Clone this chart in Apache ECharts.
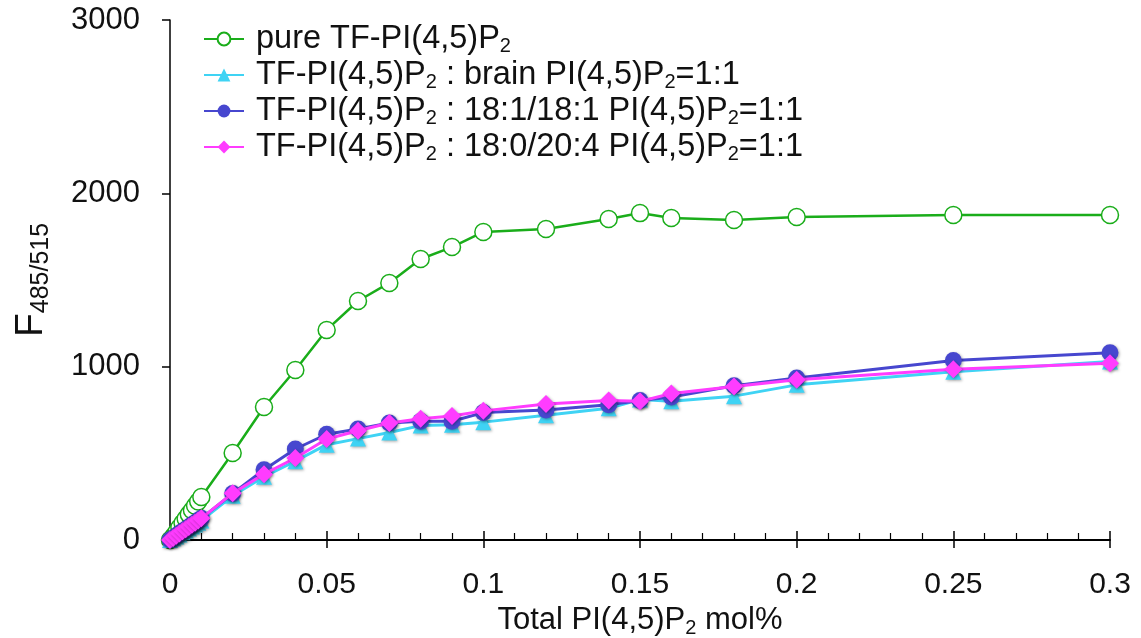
<!DOCTYPE html>
<html><head><meta charset="utf-8">
<script src="https://cdn.jsdelivr.net/npm/echarts@6/dist/echarts.min.js"></script>
<style>html,body{margin:0;padding:0;background:#fff}#c{width:1141px;height:638px}</style>
</head><body><div id="c"></div>
<script>
const xValues = [0,0.001,0.002,0.003,0.004,0.005,0.006,0.007,0.008,0.009,0.01,0.02,0.03,0.04,0.05,0.06,0.07,0.08,0.09,0.1,0.12,0.14,0.15,0.16,0.18,0.2,0.25,0.3];
const pureTF   = [0,20,45,72,98,122,148,172,198,222,248,502,767,981,1212,1379,1483,1621,1690,1777,1794,1852,1886,1858,1846,1863,1875,1875];
const brainMix = [0,10,20,32,44,55,66,78,90,100,112,255,365,455,550,585,620,660,665,680,720,760,810,800,830,895,970,1030];
const mix181   = [0,12,25,38,50,62,75,88,100,112,125,268,405,525,610,640,675,685,685,735,750,780,805,825,890,935,1035,1080];
const mix1820  = [0,12,25,38,50,62,75,88,100,112,125,270,380,473,583,630,675,700,715,745,785,805,800,845,885,925,985,1020];
const seriesNames = ['pure','brain','181','1820'];
const legendLabels = {
  'pure':'pure TF-PI(4,5)P{s|2}',
  'brain':'TF-PI(4,5)P{s|2} : brain PI(4,5)P{s|2}=1:1',
  '181':'TF-PI(4,5)P{s|2} : 18:1/18:1 PI(4,5)P{s|2}=1:1',
  '1820':'TF-PI(4,5)P{s|2} : 18:0/20:4 PI(4,5)P{s|2}=1:1'
};
const yTicks = [0,1000,2000,3000];
const xTickLabels = ['0','0.05','0.1','0.15','0.2','0.25','0.3'];

const pair = ys => xValues.map((x,i)=>[x,ys[i]]);
const FONT = '"Liberation Sans", Arial, sans-serif';
const shadow = {shadowBlur:3, shadowColor:'rgba(0,0,0,0.35)', shadowOffsetX:1, shadowOffsetY:1};

const chart = echarts.init(document.getElementById('c'));
chart.setOption({
  animation:false,
  textStyle:{fontFamily:FONT},
  grid:{left:170,right:31,top:20,bottom:98,containLabel:false,outerBoundsMode:'none'},
  legend:{
    left:198, top:17, orient:'vertical', itemGap:2, itemWidth:40, itemHeight:16,
    data:seriesNames,
    formatter: n => legendLabels[n],
    textStyle:{fontFamily:FONT,fontSize:32.5,color:'#111',padding:[0,0,0,7],lineHeight:32,
      rich:{s:{fontSize:20,fontFamily:FONT,color:'#111',lineHeight:18,padding:[14,0,0,0]}}}
  },
  xAxis:[{
    type:'value', min:0, max:0.3, interval:0.05,
    axisLine:{show:true,lineStyle:{color:'#000',width:2}},
    axisTick:{show:true,inside:true,length:9,lineStyle:{color:'#000',width:1.5}},
    minorTick:{show:true,splitNumber:5,length:7,lineStyle:{color:'#000',width:1.2}},
    splitLine:{show:false},
    axisLabel:{fontSize:30,color:'#111',margin:30,fontFamily:FONT,
      formatter:(v)=>{const i=Math.round(v/0.05);return xTickLabels[i]!==undefined?xTickLabels[i]:'';}},
    name:'Total PI(4,5)P{s|2} mol%', nameLocation:'middle', nameGap:53,
    nameTextStyle:{fontSize:31,color:'#111',fontFamily:FONT,rich:{s:{fontSize:20,fontFamily:FONT,color:'#111',padding:[16,0,0,0]}}}
  },{
    type:'value', min:0, max:0.3, interval:0.05, position:'bottom', offset:0,
    axisLine:{show:false}, axisLabel:{show:false}, splitLine:{show:false},
    axisTick:{show:true,inside:false,length:8,lineStyle:{color:'#000',width:1.5}}
  }],
  yAxis:{
    type:'value', min:yTicks[0], max:yTicks[yTicks.length-1], interval:1000,
    axisLine:{show:true,lineStyle:{color:'#000',width:1.5}},
    axisTick:{show:true,inside:false,length:8,lineStyle:{color:'#000',width:1.5}},
    splitLine:{show:false},
    axisLabel:{fontSize:31,color:'#111',margin:30,fontFamily:FONT,formatter:v=>String(v)},
    name:'F{s|485/515}', nameLocation:'middle', nameGap:116, nameRotate:90,
    nameTextStyle:{fontSize:39,color:'#111',fontFamily:FONT,rich:{s:{fontSize:25,fontFamily:FONT,color:'#111',padding:[20,0,0,0]}}}
  },
  series:[
    {name:'pure',type:'line',data:pair(pureTF),symbol:'circle',symbolSize:17,
      lineStyle:{color:'#1aad1a',width:2.5},
      itemStyle:{color:'#ffffff',borderColor:'#1aad1a',borderWidth:1.5},z:2},
    {name:'brain',type:'line',data:pair(brainMix),symbol:'triangle',symbolSize:16,
      lineStyle:{color:'#3fd3f4',width:3},
      itemStyle:Object.assign({color:'#3fd3f4',borderWidth:0},shadow),z:3},
    {name:'181',type:'line',data:pair(mix181),symbol:'circle',symbolSize:17,
      lineStyle:{color:'#4747cf',width:3},
      itemStyle:Object.assign({color:'#4747cf',borderWidth:0},shadow),z:4},
    {name:'1820',type:'line',data:pair(mix1820),symbol:'diamond',symbolSize:18,
      lineStyle:{color:'#ff3cff',width:3},
      itemStyle:Object.assign({color:'#ff3cff',borderWidth:0},shadow),z:5}
  ]
});
</script></body></html>
